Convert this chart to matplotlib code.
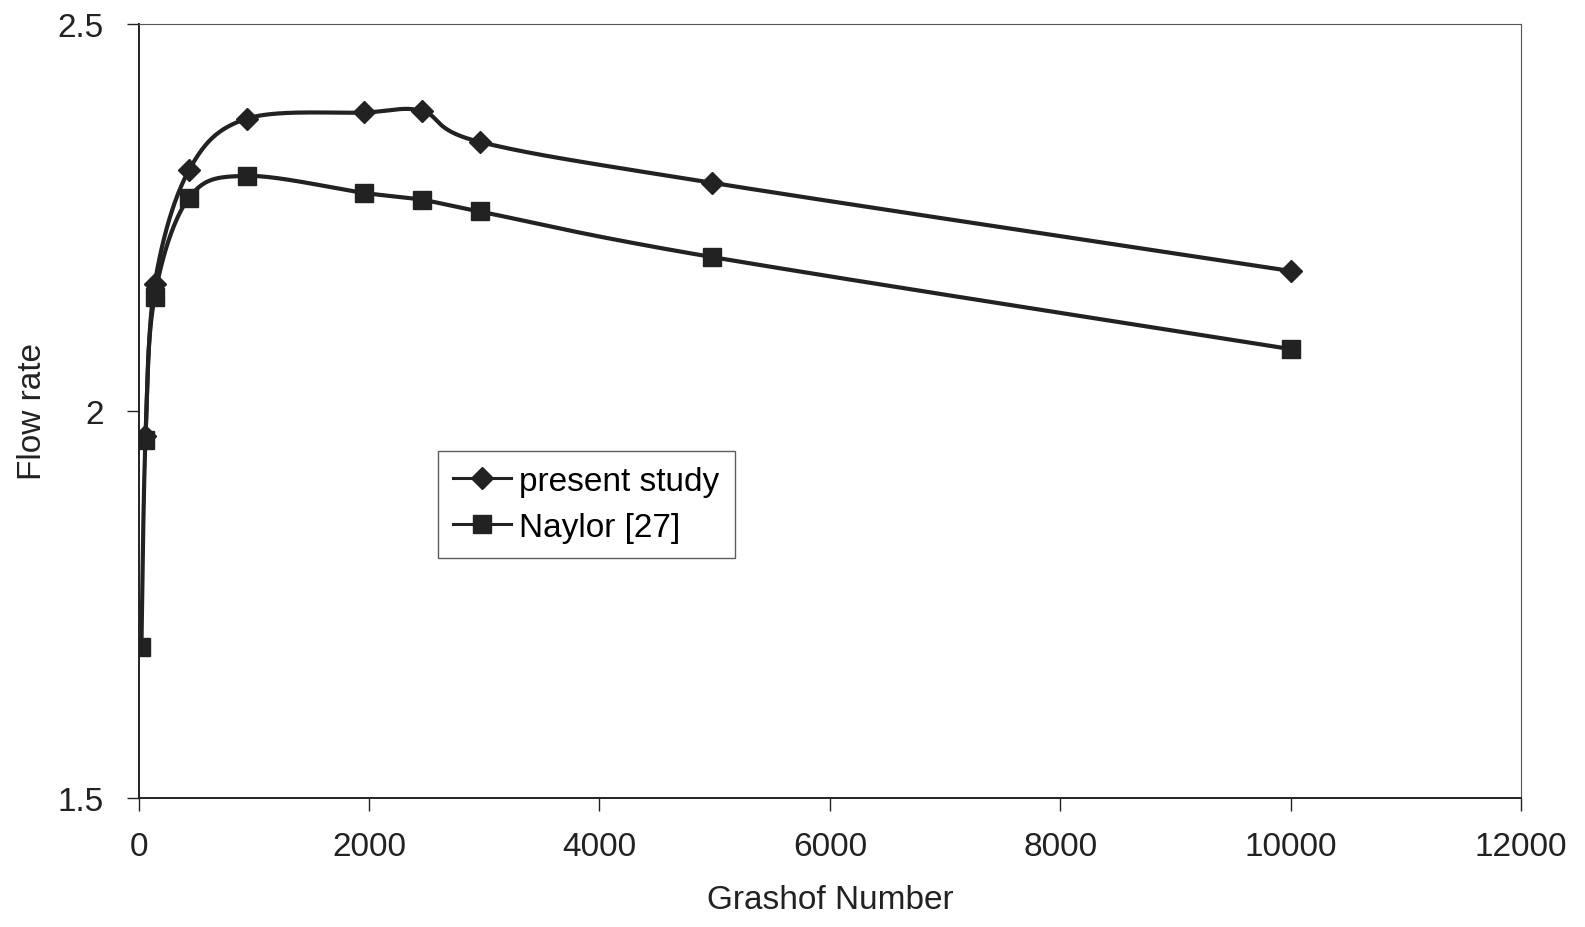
import numpy as np
import matplotlib
matplotlib.use("Agg")
import matplotlib.pyplot as plt
from matplotlib.ticker import FixedLocator, FixedFormatter

# ---- data ----
gr_present = [60, 140, 440, 940, 1960, 2460, 2960, 4980, 10000]
flow_present = [1.967, 2.164, 2.312, 2.378, 2.386, 2.388, 2.348, 2.295, 2.181]

gr_naylor = [25, 60, 140, 440, 940, 1960, 2460, 2960, 4980, 10000]
flow_naylor = [1.695, 1.963, 2.148, 2.276, 2.304, 2.282, 2.273, 2.258, 2.199, 2.080]

x_ticks = [0, 2000, 4000, 6000, 8000, 10000, 12000]
x_tick_labels = ["0", "2000", "4000", "6000", "8000", "10000", "12000"]
y_ticks = [1.5, 2.0, 2.5]
y_tick_labels = ["1.5", "2", "2.5"]

XMIN, XMAX = 0, 12000
YMIN, YMAX = 1.5, 2.5

plt.rcParams['font.family'] = ['Liberation Sans', 'DejaVu Sans']

fig = plt.figure(figsize=(15.85, 9.28), dpi=100)
ax = fig.add_axes([0.0874, 0.1395, 0.8723, 0.8332])
ax.set_xlim(XMIN, XMAX)
ax.set_ylim(YMIN, YMAX)


def smooth(xs, ys, n=40):
    """Excel-like smoothed line (Catmull-Rom Bezier) computed in axes units."""
    W, H = 1382.0, 773.0
    px = (np.asarray(xs, float) - XMIN) / (XMAX - XMIN) * W
    py = (np.asarray(ys, float) - YMIN) / (YMAX - YMIN) * H
    P = np.column_stack([px, py])
    out = [P[0]]
    t = np.linspace(0, 1, n)[1:]
    for i in range(len(P) - 1):
        p0 = P[i - 1] if i > 0 else P[i]
        p1 = P[i]
        p2 = P[i + 1]
        p3 = P[i + 2] if i + 2 < len(P) else P[i + 1]
        c1 = p1 + (p2 - p0) / 6.0
        c2 = p2 - (p3 - p1) / 6.0
        seg = ((1 - t)[:, None] ** 3 * p1 + 3 * ((1 - t) ** 2 * t)[:, None] * c1
               + 3 * ((1 - t) * t ** 2)[:, None] * c2 + (t ** 3)[:, None] * p2)
        out.extend(seg)
    out = np.array(out)
    return (out[:, 0] / W * (XMAX - XMIN) + XMIN,
            out[:, 1] / H * (YMAX - YMIN) + YMIN)

col = '#222222'
sx, sy = smooth(gr_present, flow_present)
ax.plot(sx, sy, color=col, lw=3.0, zorder=3)
ax.plot(gr_present, flow_present, linestyle='none', marker='D', ms=11.5,
        color=col, zorder=4)
nx, ny = smooth(gr_naylor, flow_naylor)
ax.plot(nx, ny, color=col, lw=3.0, zorder=3)
ax.plot(gr_naylor, flow_naylor, linestyle='none', marker='s', ms=13,
        color=col, zorder=4)

# legend proxies
h1, = ax.plot([], [], color=col, lw=2.2, marker='D', ms=11.5)
h2, = ax.plot([], [], color=col, lw=2.2, marker='s', ms=13)
leg = ax.legend([h1, h2], ['present study', 'Naylor [27]'],
                loc='upper left', bbox_to_anchor=(0.2164, 0.448),
                frameon=True, fancybox=False, fontsize=24,
                handlelength=1.75, handletextpad=0.25, borderpad=0.45,
                labelspacing=0.45, borderaxespad=0)
leg.get_frame().set_edgecolor('#333333')
leg.get_frame().set_linewidth(1.0)

ax.xaxis.set_major_locator(FixedLocator(x_ticks))
ax.xaxis.set_major_formatter(FixedFormatter(x_tick_labels))
ax.yaxis.set_major_locator(FixedLocator(y_ticks))
ax.yaxis.set_major_formatter(FixedFormatter(y_tick_labels))
ax.tick_params(axis='both', direction='out', length=9, width=1.0,
               labelsize=24, colors='#222222')
ax.tick_params(axis='x', pad=15)
ax.tick_params(axis='y', pad=16)

for s in ['left', 'bottom']:
    ax.spines[s].set_linewidth(1.4)
    ax.spines[s].set_color('#222222')
for s in ['top', 'right']:
    ax.spines[s].set_linewidth(0.8)
    ax.spines[s].set_color('#555555')

ax.set_xlabel('Grashof Number', fontsize=24, color='#222222', labelpad=16)
ax.set_ylabel('Flow rate', fontsize=24, color='#222222', labelpad=7)

fig.savefig('out.png', dpi=100, facecolor='white')
